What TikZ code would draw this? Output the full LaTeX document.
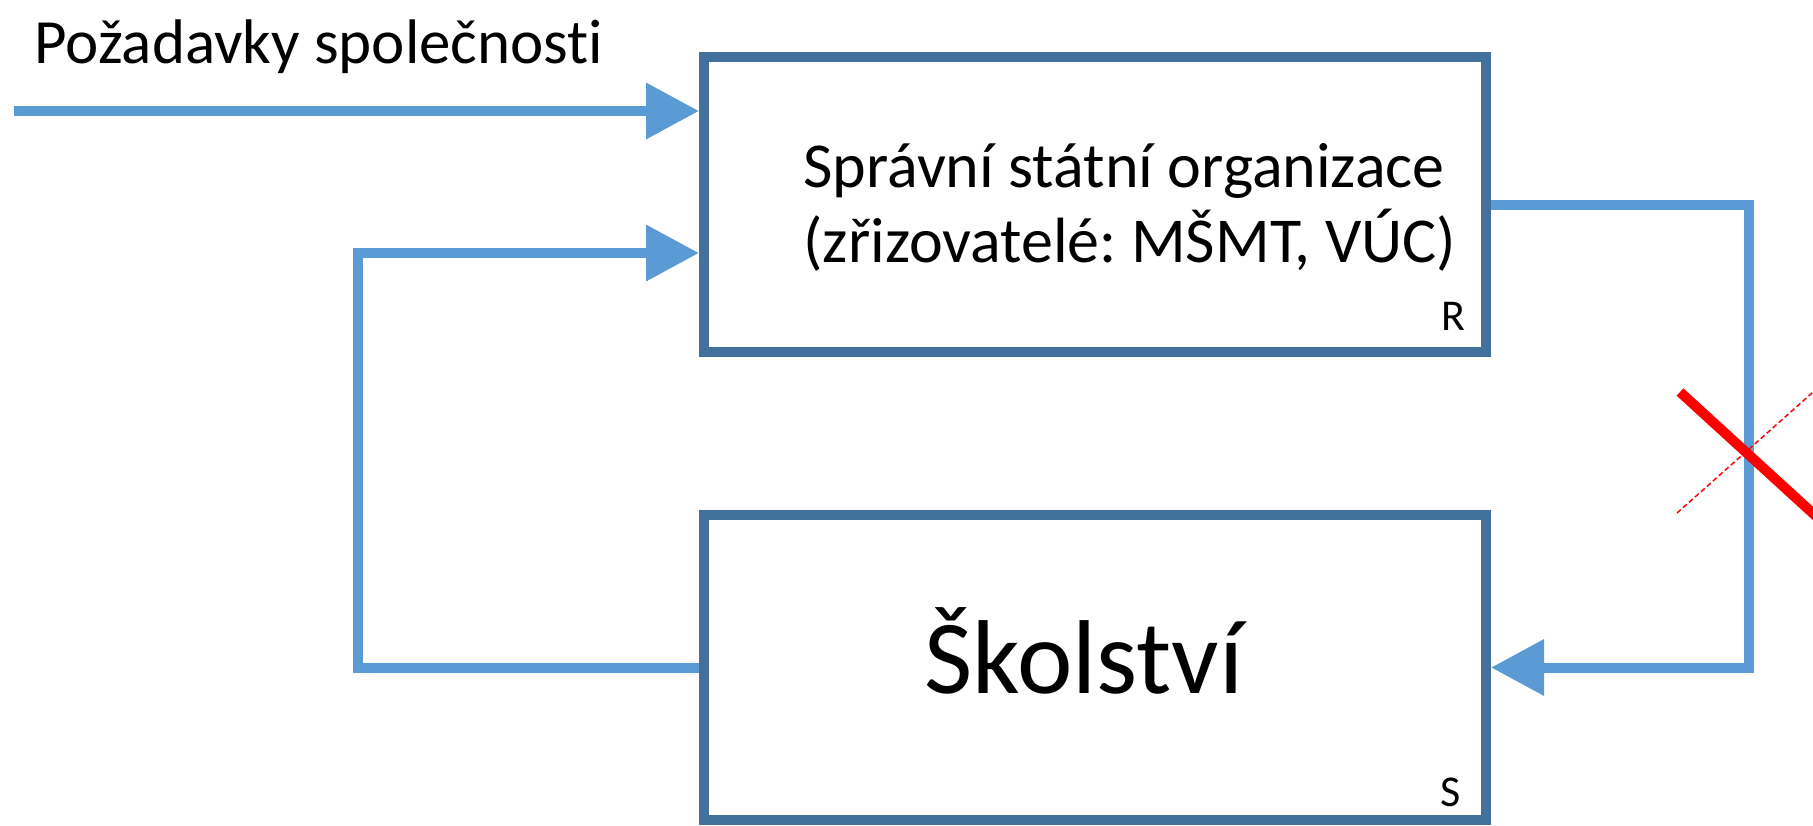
\documentclass[tikz,border=0pt]{standalone}
\usepackage{fontspec}
\setmainfont{Carlito}[RawFeature=-liga]
\usetikzlibrary{arrows.meta}
\definecolor{boxblue}{HTML}{41719C}
\definecolor{lineblue}{HTML}{5B9BD5}
\definecolor{crossred}{HTML}{FF0000}
\frenchspacing
\tikzset{
  blockbox/.style={draw=boxblue, line width=5pt, fill=white, rectangle, inner sep=0pt},
  conn/.style={draw=lineblue, line width=5pt},
  arr/.style={-{Triangle[length=26.5pt,width=27pt]}},
  lbl/.style={inner sep=0pt, font=\fontsize{31.5}{37.5}\selectfont},
  corner/.style={inner sep=0pt, font=\fontsize{22}{26}\selectfont},
}
\begin{document}
\begin{tikzpicture}[x=0.5pt,y=-0.5pt]
\useasboundingbox (0,0) rectangle (1813,825);
% boxes
\node[blockbox, minimum width=391pt, minimum height=147.5pt] (top) at (1095,204.5) {};
\node[blockbox, minimum width=391pt, minimum height=152.5pt] (bot) at (1095,667.5) {};
% texts
\node[lbl, anchor=base west] (req) at (34,63) {Požadavky společnosti};
\node[lbl, anchor=base west, align=left, font=\fontsize{32}{37.5}\selectfont] (toptxt) at (803,262) {Správní státní organizace\\(zřizovatelé: MŠMT, VÚC)};
\node[corner, anchor=base west] (rlab) at (1441,330) {R};
\node[inner sep=0pt, font=\fontsize{52.5}{60}\selectfont, anchor=base] (bottxt) at (1084,693) {Školství};
\node[corner, anchor=base west] (slab) at (1440,806) {S};
% connectors
\coordinate (src) at (14,111);
\coordinate (fb) at (358,253);
\coordinate (rl) at (1749,667.5);
\draw[conn,arr] (src) -- (src -| top.west);
\draw[conn,arr] (bot.west) -| (fb) -- (fb -| top.west);
\draw[conn,arr] (top.east) -| (rl) -- (bot.east);
% red cross
\draw[crossred, line width=5pt] (1680,392) -- (1830,529);
\draw[crossred, line width=0.75pt, dash pattern=on 2.5pt off 1.5pt] (1677,513) -- (1830,377);
\end{tikzpicture}
\end{document}
